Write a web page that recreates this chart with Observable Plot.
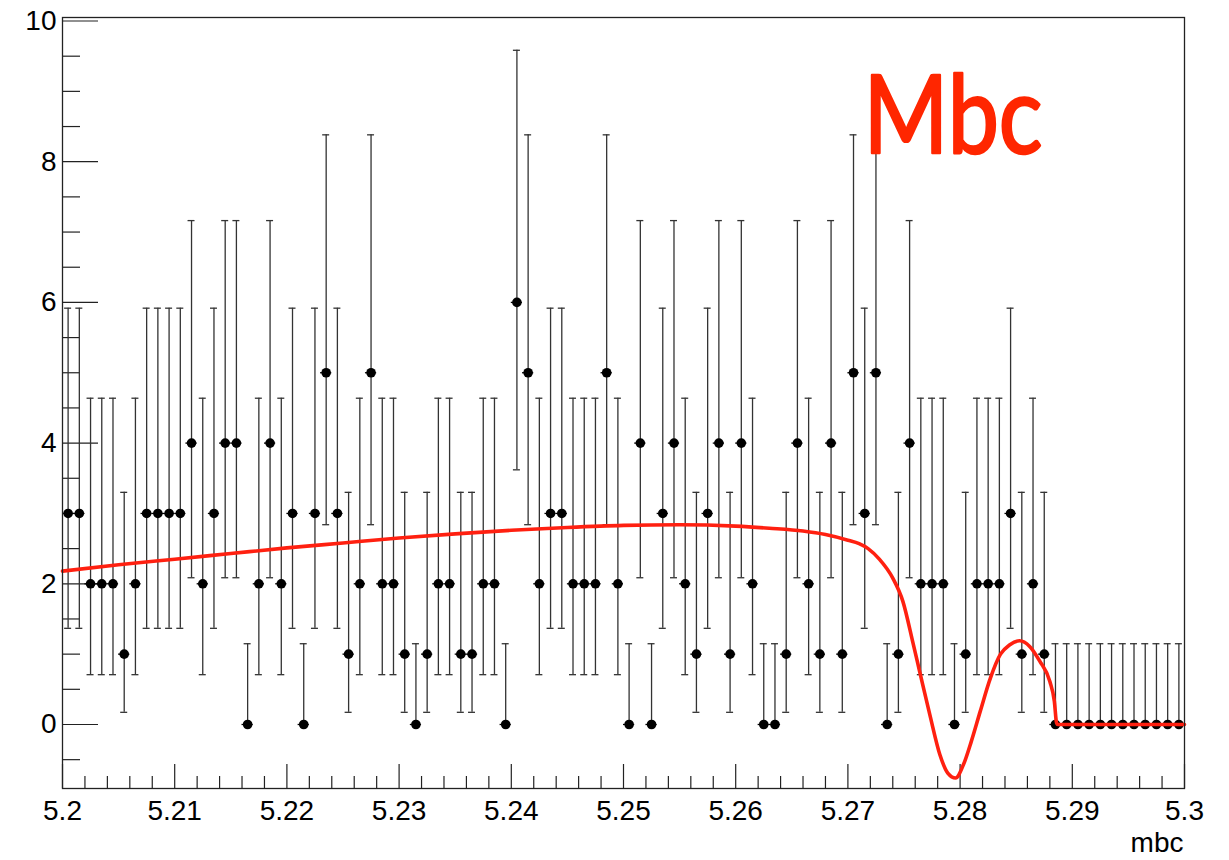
<!DOCTYPE html>
<html>
<head>
<meta charset="utf-8">
<script src="https://cdn.jsdelivr.net/npm/d3@7"></script>
<script src="https://cdn.jsdelivr.net/npm/@observablehq/plot@0.6"></script>
<style>
  html, body { margin: 0; padding: 0; background: #fff; }
  #chart { width: 1229px; height: 860px; }
</style>
</head>
<body>
<div id="chart"></div>
<script>
// Bin centers (100 bins, width 0.001, 5.2 .. 5.3)
const binLow = 5.2;
const binWidth = 0.001;
// Counts per bin
const counts = [
  3,3,2,2,2,1,2,3,3,3,
  3,4,2,3,4,4,0,2,4,2,
  3,0,3,5,3,1,2,5,2,2,
  1,0,1,2,2,1,1,2,2,0,
  6,5,2,3,3,2,2,2,5,2,
  0,4,0,3,4,2,1,3,4,1,
  4,2,0,0,1,4,2,1,4,1,
  5,3,5,0,1,4,2,2,2,0,
  1,2,2,2,3,1,2,1,0,0,
  0,0,0,0,0,0,0,0,0,0
];
// Error bar ends by count
const errLow  = [0, 0.173, 0.708, 1.367, 2.086, 2.840, 3.620];
const errHigh = [1.148, 3.300, 4.638, 5.918, 7.163, 8.382, 9.584];

// Fit curve
const fitX = [5.200, 5.205, 5.210, 5.215, 5.220, 5.225, 5.230, 5.235, 5.240, 5.245,
  5.250, 5.255, 5.260, 5.263, 5.266, 5.268, 5.270, 5.271, 5.2718, 5.2728,
  5.2740, 5.2749, 5.2758, 5.2764, 5.2773, 5.2782, 5.2789, 5.2796, 5.2803, 5.2810,
  5.2818, 5.2827, 5.2836, 5.2844, 5.2853, 5.2862, 5.2871, 5.2880, 5.2884, 5.2886,
  5.2887, 5.300];
const fitY = [2.18, 2.27, 2.35, 2.43, 2.51, 2.58, 2.65, 2.71, 2.76, 2.80,
  2.83, 2.84, 2.82, 2.79, 2.75, 2.70, 2.62, 2.57, 2.50, 2.35,
  2.08, 1.75, 1.16, 0.75, 0.14, -0.43, -0.69, -0.76, -0.57, -0.24,
  0.19, 0.66, 1.00, 1.13, 1.19, 1.11, 0.90, 0.61, 0.33, 0.02,
  0, 0];

// Ticks
const xMajorTicks = [5.2, 5.21, 5.22, 5.23, 5.24, 5.25, 5.26, 5.27, 5.28, 5.29, 5.3];
const xMinorTicks = [5.202,5.204,5.206,5.208, 5.212,5.214,5.216,5.218, 5.222,5.224,5.226,5.228,
  5.232,5.234,5.236,5.238, 5.242,5.244,5.246,5.248, 5.252,5.254,5.256,5.258,
  5.262,5.264,5.266,5.268, 5.272,5.274,5.276,5.278, 5.282,5.284,5.286,5.288,
  5.292,5.294,5.296,5.298];
const yMajorTicks = [0, 2, 4, 6, 8, 10];
const yMinorTicks = [-0.5, 0.5, 1, 1.5, 2.5, 3, 3.5, 4.5, 5, 5.5, 6.5, 7, 7.5, 8.5, 9, 9.5];

const xDomain = [5.2, 5.3];
const yDomain = [-0.91, 10.05];

const bins = counts.map((c, i) => ({
  x: binLow + (i + 0.5) * binWidth,
  x0: binLow + i * binWidth,
  x1: binLow + (i + 1) * binWidth,
  y: c, lo: errLow[c], hi: errHigh[c]
}));
const fit = fitX.map((x, i) => ({x, y: fitY[i]}));

const W = 1229, H = 860;
const mL = 62, mR = 45, mT = 17, mB = 72;
const pxX = (xDomain[1] - xDomain[0]) / (W - mL - mR);
const pxY = (yDomain[1] - yDomain[0]) / (H - mT - mB);
const capHalf = 3.5 * pxX;
const font = "'Liberation Sans', Arial, Helvetica, sans-serif";

const chart = Plot.plot({
  width: W, height: H,
  marginLeft: mL, marginRight: mR, marginTop: mT, marginBottom: mB,
  style: {fontFamily: font, background: "#fff", color: "#000"},
  x: {domain: xDomain},
  y: {domain: yDomain},
  marks: [
    // ticks inside the frame
    Plot.ruleY(yMajorTicks, {y: d => d, x1: xDomain[0], x2: xDomain[0] + 36 * pxX, stroke: "#222", strokeWidth: 1.2}),
    Plot.ruleY(yMinorTicks, {y: d => d, x1: xDomain[0], x2: xDomain[0] + 18 * pxX, stroke: "#222", strokeWidth: 1.2}),
    Plot.ruleX(xMajorTicks, {x: d => d, y1: yDomain[0], y2: yDomain[0] + 24 * pxY, stroke: "#222", strokeWidth: 1.2}),
    Plot.ruleX(xMinorTicks, {x: d => d, y1: yDomain[0], y2: yDomain[0] + 12 * pxY, stroke: "#222", strokeWidth: 1.2}),
    // error bars
    Plot.ruleX(bins, {x: "x", y1: "lo", y2: "hi", stroke: "#333", strokeWidth: 1.3}),
    Plot.ruleY(bins, {y: "hi", x1: d => d.x - capHalf, x2: d => d.x + capHalf, stroke: "#333", strokeWidth: 1.3}),
    Plot.ruleY(bins.filter(d => d.y > 0), {y: "lo", x1: d => d.x - capHalf, x2: d => d.x + capHalf, stroke: "#333", strokeWidth: 1.3}),
    Plot.ruleY(bins, {y: "y", x1: "x0", x2: "x1", stroke: "#000", strokeWidth: 1.3}),
    Plot.dot(bins, {x: "x", y: "y", r: 4.8, fill: "#000", stroke: "none"}),
    // fit
    Plot.line(fit, {x: "x", y: "y", stroke: "#ff2010", strokeWidth: 3.6, curve: "monotone-x"}),
    Plot.frame({stroke: "#222", strokeWidth: 1.3}),
    // axis labels
    Plot.axisX(xMajorTicks, {tickSize: 0, tickPadding: 12, fontSize: 28, label: null, tickFormat: d3.format("~g")}),
    Plot.axisY(yMajorTicks, {tickSize: 0, tickPadding: 6, fontSize: 28, label: null, tickFormat: d3.format("~g")}),
    Plot.text(["mbc"], {text: d => d, frameAnchor: "bottom-right", lineAnchor: "middle", textAnchor: "end", dx: -1, dy: 55, fontSize: 28}),
    Plot.text(["Mbc"], {text: d => d, frameAnchor: "top-left", lineAnchor: "middle", textAnchor: "start", dx: 801, dy: 101, fontSize: 108, fontWeight: "normal", fill: "#ff2600", stroke: "#ff2600", strokeWidth: 2.5, fontFamily: "Lato, 'Open Sans', sans-serif", className: "mbc-title"})
  ]
});
document.getElementById("chart").appendChild(chart);
// Fit big label width to the reference
const big = chart.querySelector(".mbc-title text");
if (big) { big.setAttribute("textLength", "179"); big.setAttribute("lengthAdjust", "spacingAndGlyphs"); }
</script>
</body>
</html>
